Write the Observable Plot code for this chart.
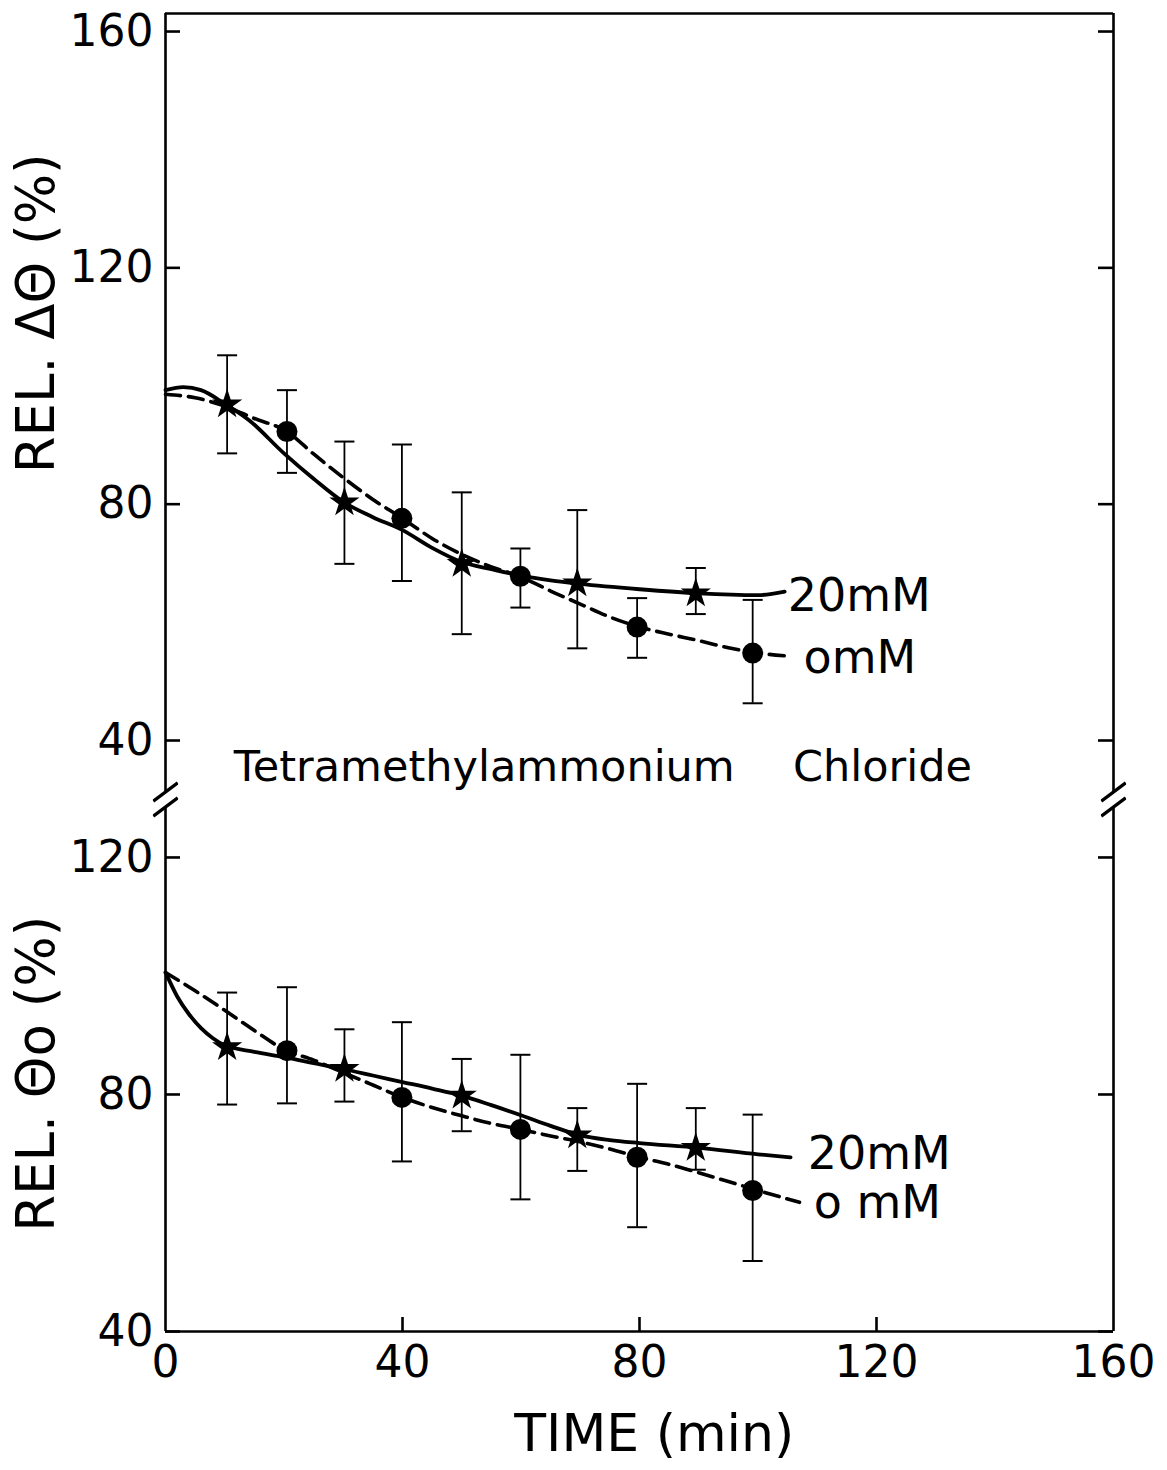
<!DOCTYPE html>
<html><head><meta charset="utf-8">
<script src="https://cdn.jsdelivr.net/npm/d3@7"></script>
<script src="https://cdn.jsdelivr.net/npm/@observablehq/plot@0.6"></script>
<style>
html,body{margin:0;padding:0;background:#fff;}
#chart{width:1167px;height:1470px;position:relative;background:#fff;}
#chart svg{display:block;overflow:visible;background:transparent;}
</style></head><body><div id="chart"></div>
<script>
// ---- axes / ticks ----
const xTicks = [0, 40, 80, 120, 160];
const yTicksTop = [40, 80, 120, 160];
const yTicksBot = [40, 80, 120];
const xLabel = "TIME (min)";
const yLabelTop = "REL. ΔΘ (%)";
const yLabelBot = "REL. Θo (%)";
const compound = ["Tetramethylammonium", "Chloride"];

// ---- measured points (time, value, error-bar low, error-bar high) ----
const t20 = [10.4, 30.2, 50, 69.5, 89.5];
const t0  = [20.5, 39.9, 59.9, 79.6, 99.1];

// upper panel: REL. ΔΘ
const top20  = [96.9, 80.3, 69.9, 66.6, 64.9];
const top20Lo = [88.6, 69.9, 58.0, 55.6, 61.4];
const top20Hi = [105.2, 90.6, 82.0, 79.0, 69.2];
const top0   = [92.3, 77.6, 67.8, 59.2, 54.8];
const top0Lo = [85.3, 67.0, 62.5, 54.0, 46.3];
const top0Hi = [99.3, 90.1, 72.5, 64.1, 63.8];

// lower panel: REL. Θo
const bot20  = [88.0, 84.3, 79.8, 73.1, 71.0];
const bot20Lo = [78.3, 78.8, 73.8, 67.1, 67.3];
const bot20Hi = [97.2, 91.0, 86.0, 77.7, 77.7];
const bot0   = [87.4, 79.5, 74.1, 69.4, 63.8];
const bot0Lo = [78.5, 68.7, 62.3, 57.6, 51.9];
const bot0Hi = [98.1, 92.2, 86.7, 81.8, 76.6];

// ---- hand-drawn fitted curves ----
const fitTop20T = [0, 3, 6, 10, 14, 20, 25, 30, 35, 40, 45, 50, 55, 60, 65, 70, 80, 90, 100, 104.5];
const fitTop20V = [99.3, 99.8, 99.3, 97, 94.3, 88.6, 84.3, 80.4, 77.8, 75.6, 72.6, 70.2, 69, 67.9, 67.1, 66.5, 65.6, 64.9, 64.6, 65.2];
const fitTop0T = [0, 5, 10, 15, 20.5, 25, 30, 35, 40, 45, 50, 55, 60, 65, 70, 75, 80, 85, 90, 95, 100, 105];
const fitTop0V = [98.6, 98, 96.6, 94.5, 92.3, 88.5, 84.5, 80.8, 77.6, 74.2, 71.5, 69.4, 67.7, 65.3, 63.1, 60.9, 59.2, 58, 56.9, 55.7, 54.8, 54.3];
const fitBot20T = [0, 2, 4, 6, 8, 10, 15, 20, 25, 30, 35, 40, 45, 50, 55, 60, 65, 70, 75, 80, 90, 100, 105.5];
const fitBot20V = [100.6, 96.5, 93.5, 91.2, 89.5, 88.3, 87.2, 86.3, 85.3, 84.3, 83.2, 82.1, 81, 79.8, 78.2, 76.5, 74.7, 73.1, 72.3, 71.8, 71, 69.9, 69.4];
const fitBot0T = [0, 5, 10, 15, 20, 25, 30, 35, 40, 45, 50, 55, 60, 65, 70, 75, 80, 85, 90, 95, 100, 107];
const fitBot0V = [100.6, 97.5, 94.2, 90.8, 87.6, 85.8, 83.7, 81.6, 79.5, 77.8, 76.4, 75.1, 74.1, 73, 72, 70.8, 69.4, 68.2, 66.8, 65.3, 63.8, 61.8];

// ---- series labels ----
const labTop = [{text: "20mM", t: 105, v: 64.4}, {text: "omM", t: 107.7, v: 54.0}];
const labBot = [{text: "20mM", t: 108.4, v: 69.9}, {text: "o mM", t: 109.4, v: 61.6}];

// ---- helpers ----
const pts = (ts, vs, lo, hi) => ts.map((t, i) => ({t, v: vs[i], lo: lo[i], hi: hi[i]}));
const fit = (ts, vs) => ts.map((t, i) => ({t, v: vs[i]}));
const capSym = {draw(ctx) { ctx.moveTo(-10, 0); ctx.lineTo(10, 0); }};
const slashSym = {draw(ctx) {
  ctx.moveTo(-12, 9); ctx.lineTo(12, -9);
  ctx.moveTo(-12, 24); ctx.lineTo(12, 6);
}};
const slashSymUp = {draw(ctx) {
  ctx.moveTo(-12, -6); ctx.lineTo(12, -24);
  ctx.moveTo(-12, 9); ctx.lineTo(12, -9);
}};

const W = 1167, ML = 165, MR = 54;
const frameW = W - ML - MR;
const FONT = "DejaVu Sans, Liberation Sans, sans-serif";

function seriesMarks(p20, p0, f20, f0, labs) {
  return [
    Plot.ruleX(p20, {x: "t", y1: "lo", y2: "hi", strokeWidth: 1.8}),
    Plot.ruleX(p0, {x: "t", y1: "lo", y2: "hi", strokeWidth: 1.8}),
    Plot.dot([...p20, ...p0], {x: "t", y: "lo", symbol: capSym, stroke: "black", strokeWidth: 2, r: 6}),
    Plot.dot([...p20, ...p0], {x: "t", y: "hi", symbol: capSym, stroke: "black", strokeWidth: 2, r: 6}),
    Plot.line(f20, {x: "t", y: "v", curve: "monotone-x", stroke: "black", strokeWidth: 3.8}),
    Plot.line(f0, {x: "t", y: "v", curve: "monotone-x", stroke: "black", strokeWidth: 3.6, strokeDasharray: "15,8"}),
    Plot.dot(p20, {x: "t", y: "v", symbol: "star", fill: "black", r: 9.5}),
    Plot.dot(p0, {x: "t", y: "v", symbol: "circle", fill: "black", r: 10.5}),
    Plot.text(labs, {x: "t", y: "v", text: "text", textAnchor: "start", lineAnchor: "middle", fontSize: 46, fill: "black"})
  ];
}

// ---- upper panel ----
const yTopDomain = [31.2, 163.05];
const topH = 800, topMT = 13, topMB = 8;
const upper = Plot.plot({
  width: W, height: topH, marginLeft: ML, marginRight: MR, marginTop: topMT, marginBottom: topMB,
  x: {domain: [0, 160], axis: null},
  y: {domain: yTopDomain, axis: null},
  style: {fontFamily: FONT, color: "black", overflow: "visible", background: "transparent"},
  marks: [
    Plot.ruleY([yTopDomain[1]], {strokeWidth: 2.6}),
    Plot.ruleX([0, 160], {strokeWidth: 2.6}),
    Plot.tickY(yTicksTop, {insetRight: frameW - 15, strokeWidth: 2.6}),
    Plot.tickY(yTicksTop, {insetLeft: frameW - 15, strokeWidth: 2.6}),
    Plot.dot([{x: 0}, {x: 160}], {x: "x", y: () => yTopDomain[0], symbol: slashSym, stroke: "black", strokeWidth: 2.6, r: 6}),
    Plot.axisY({ticks: yTicksTop, anchor: "left", tickSize: 0, tickPadding: 12, fontSize: 44, label: null}),
    Plot.text([yLabelTop], {x: 0, y: 112.3, text: d => d, rotate: -90, dx: -128, textAnchor: "middle", lineAnchor: "middle", fontSize: 53}),
    Plot.text([compound[0]], {x: 53.8, y: 35.4, text: d => d, textAnchor: "middle", lineAnchor: "middle", fontSize: 43}),
    Plot.text([compound[1]], {x: 121, y: 35.4, text: d => d, textAnchor: "middle", lineAnchor: "middle", fontSize: 43}),
    ...seriesMarks(pts(t20, top20, top20Lo, top20Hi), pts(t0, top0, top0Lo, top0Hi), fit(fitTop20T, fitTop20V), fit(fitTop0T, fitTop0V), labTop)
  ]
});

// ---- lower panel ----
const yBotDomain = [40, 128.6];
const botH = 670, botMT = 6, botMB = 139;
const frameHBot = botH - botMT - botMB;
const lower = Plot.plot({
  width: W, height: botH, marginLeft: ML, marginRight: MR, marginTop: botMT, marginBottom: botMB,
  x: {domain: [0, 160], axis: null},
  y: {domain: yBotDomain, axis: null},
  style: {fontFamily: FONT, color: "black", overflow: "visible", background: "transparent"},
  marks: [
    Plot.ruleY([yBotDomain[0]], {strokeWidth: 2.6}),
    Plot.ruleX([0, 160], {strokeWidth: 2.6}),
    Plot.tickY(yTicksBot, {insetRight: frameW - 15, strokeWidth: 2.6}),
    Plot.tickY(yTicksBot, {insetLeft: frameW - 15, strokeWidth: 2.6}),
    Plot.tickX(xTicks.slice(1, -1), {insetTop: frameHBot - 14, strokeWidth: 2.6}),
    Plot.dot([{x: 0}, {x: 160}], {x: "x", y: () => yBotDomain[1], symbol: slashSymUp, stroke: "black", strokeWidth: 2.6, r: 6}),
    Plot.axisY({ticks: yTicksBot, anchor: "left", tickSize: 0, tickPadding: 12, fontSize: 44, label: null}),
    Plot.axisX({ticks: xTicks, anchor: "bottom", tickSize: 0, tickPadding: 14, fontSize: 44, label: null}),
    Plot.text([yLabelBot], {x: 0, y: 83.5, text: d => d, rotate: -90, dx: -128, textAnchor: "middle", lineAnchor: "middle", fontSize: 53}),
    Plot.text([xLabel], {x: 82.5, y: 40, text: d => d, dy: 103, textAnchor: "middle", lineAnchor: "middle", fontSize: 52}),
    ...seriesMarks(pts(t20, bot20, bot20Lo, bot20Hi), pts(t0, bot0, bot0Lo, bot0Hi), fit(fitBot20T, fitBot20V), fit(fitBot0T, fitBot0V), labBot)
  ]
});

const root = document.getElementById("chart");
root.appendChild(upper);
root.appendChild(lower);
</script></body></html>
